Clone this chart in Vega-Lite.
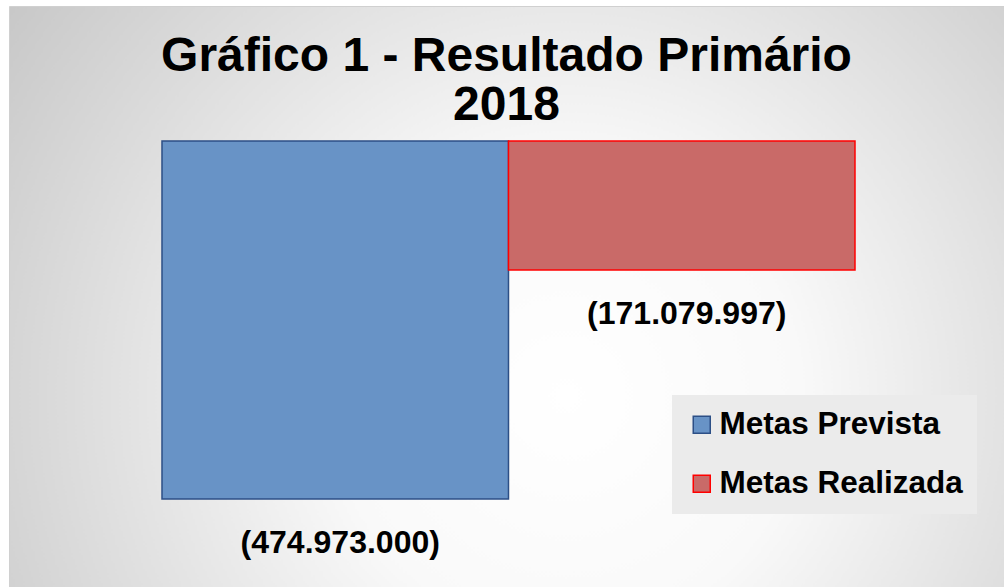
{
  "$schema": "https://vega.github.io/schema/vega-lite/v6.json",
  "width": 995,
  "height": 581,
  "autosize": {"type": "none"},
  "padding": {"top": 6, "left": 9, "right": 0, "bottom": 0},
  "background": "#ffffff",
  "config": {
    "font": "Liberation Sans",
    "view": {
      "fill": {"gradient": "radial", "x1": 0.56, "y1": 0.6, "r1": 0, "x2": 0.56, "y2": 0.6, "r2": 0.78,
        "stops": [{"offset": 0, "color": "#ffffff"}, {"offset": 0.3, "color": "#f9f9f9"}, {"offset": 1, "color": "#bdbdbd"}]},
      "stroke": "#d0d0d0",
      "strokeWidth": 1
    }
  },
  "title": {
    "text": ["Gráfico 1 - Resultado Primário", "2018"],
    "font": "Liberation Sans",
    "fontSize": 48,
    "fontWeight": "bold",
    "color": "#000000",
    "anchor": "middle",
    "baseline": "top",
    "lineHeight": 49,
    "offset": -124
  },
  "data": {
    "values": [
      {"categoria": "Metas Prevista", "valor": -474973000, "rotulo": "(474.973.000)"},
      {"categoria": "Metas Realizada", "valor": -171079997, "rotulo": "(171.079.997)"}
    ]
  },
  "encoding": {
    "x": {
      "field": "categoria", "type": "nominal", "axis": null,
      "scale": {"paddingInner": 0, "paddingOuter": 0.4358, "align": 0.5066}
    },
    "y": {
      "field": "valor", "type": "quantitative", "axis": null,
      "scale": {"domain": [-591730000, 179110000], "nice": false, "zero": false}
    }
  },
  "layer": [
    {
      "mark": {"type": "bar", "strokeWidth": 1.5},
      "encoding": {
        "fill": {
          "field": "categoria", "type": "nominal",
          "scale": {"domain": ["Metas Prevista", "Metas Realizada"], "range": ["#6893c6", "#c96a68"]},
          "legend": {
            "title": null,
            "orient": "none",
            "legendX": 663,
            "legendY": 389,
            "fillColor": "#ebebeb",
            "padding": 14,
            "symbolType": "square",
            "symbolSize": 289,
            "symbolStrokeWidth": 1.5,
            "labelFont": "Liberation Sans",
            "labelFontSize": 31.5,
            "labelFontWeight": "bold",
            "labelColor": "#000000",
            "labelLimit": 400,
            "rowPadding": 26,
            "labelOffset": 2
          }
        },
        "stroke": {
          "field": "categoria", "type": "nominal",
          "scale": {"domain": ["Metas Prevista", "Metas Realizada"], "range": ["#2c4f86", "#ff0000"]},
          "legend": {
            "title": null,
            "orient": "none",
            "legendX": 663,
            "legendY": 389
          }
        }
      }
    },
    {
      "mark": {"type": "text", "baseline": "middle", "dy": 44, "dx": 5, "fontSize": 32, "fontWeight": "bold", "font": "Liberation Sans", "color": "#000000"},
      "encoding": {
        "text": {"field": "rotulo", "type": "nominal"}
      }
    }
  ]
}
